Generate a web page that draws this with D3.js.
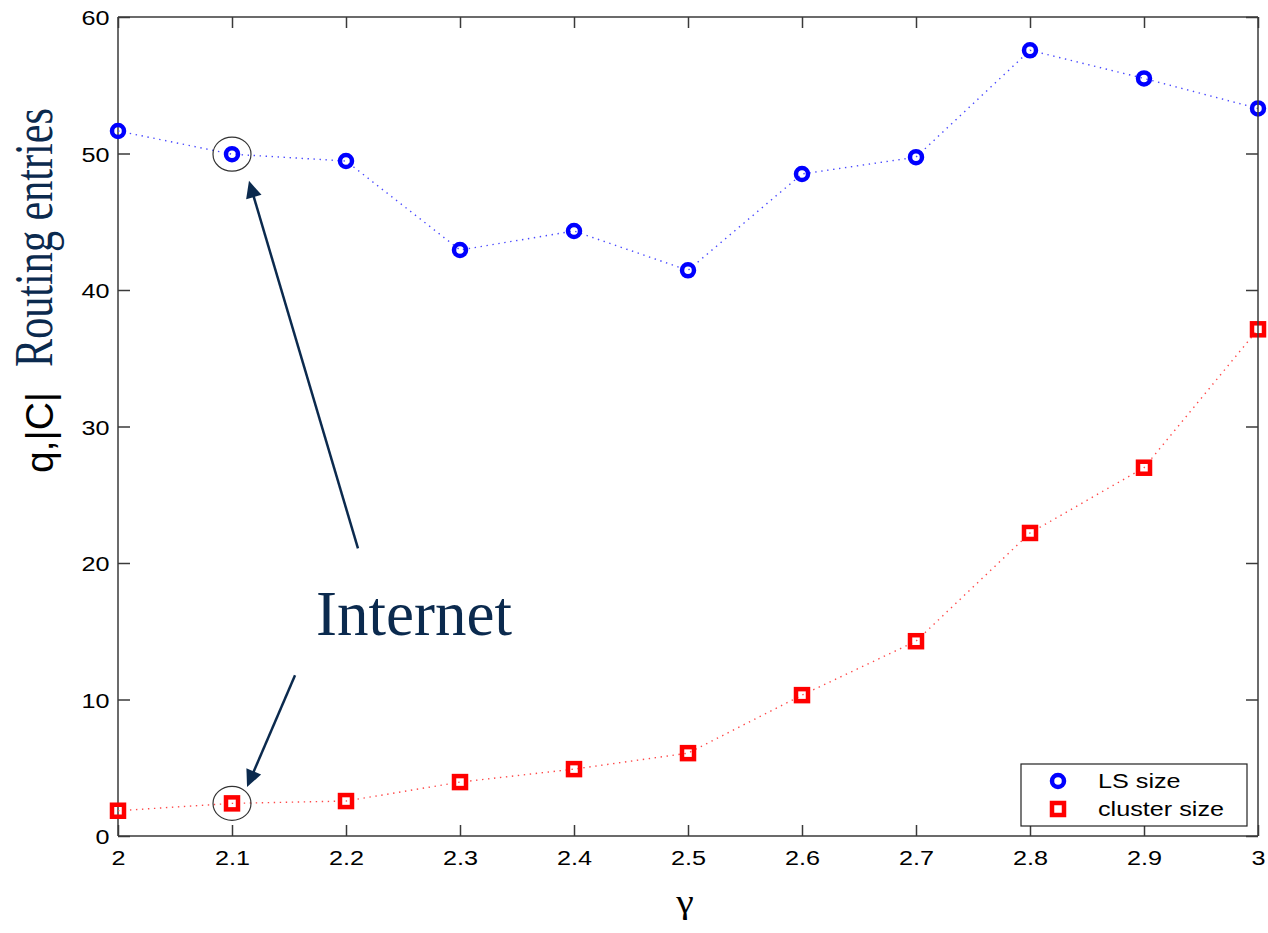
<!DOCTYPE html>
<html><head><meta charset="utf-8">
<script src="https://cdn.jsdelivr.net/npm/d3@7"></script>
<style>body{margin:0;background:#fff}</style></head>
<body><svg id="c" width="1268" height="933"></svg>
<script>
// ---- data ----
const gammaVals   = [2.0, 2.1, 2.2, 2.3, 2.4, 2.5, 2.6, 2.7, 2.8, 2.9, 3.0];
const lsSize      = [51.65, 49.95, 49.45, 42.93, 44.32, 41.44, 48.5, 49.73, 57.56, 55.5, 53.3];
const clusterSize = [1.85, 2.39, 2.56, 3.95, 4.9, 6.07, 10.32, 14.27, 22.2, 26.98, 37.12];
const xTicks      = [2.0, 2.1, 2.2, 2.3, 2.4, 2.5, 2.6, 2.7, 2.8, 2.9, 3.0];
const xTickLabels = ["2", "2.1", "2.2", "2.3", "2.4", "2.5", "2.6", "2.7", "2.8", "2.9", "3"];
const yTicks      = [0, 10, 20, 30, 40, 50, 60];
const seriesNames = ["LS size", "cluster size"];
const xLabel = "γ";
const yLabelA = "q,|C|";
const yLabelB = "Routing entries";
const annotText = "Internet";
const annotTextPos = [2.1737, 14.7];
const arrowUp = [[2.2105, 21.07], [2.1149, 48.0]];
const arrowDown = [[2.1553, 11.78], [2.1132, 3.585]];
const highlightIndex = 1;

// ---- layout ----
const L = 118, T = 17, R = 1258, B = 836;
const svg = d3.select("#c");
const x = d3.scaleLinear().domain([2, 3]).range([L, R]);
const y = d3.scaleLinear().domain([0, 60]).range([B, T]);
const axisCol = "#3a3a3a";
const navy = "#0b2a4e";
const sans = "'Liberation Sans', Arial, sans-serif";
const serif = "'Liberation Serif', 'Times New Roman', serif";

// axes (left/bottom with labels)
const gx = svg.append("g").attr("transform", `translate(0,${B})`)
  .call(d3.axisBottom(x).tickValues(xTicks).tickSize(-11).tickSizeOuter(0).tickPadding(14)
    .tickFormat((d, i) => xTickLabels[i]));
const gy = svg.append("g").attr("transform", `translate(${L},0)`)
  .call(d3.axisLeft(y).tickValues(yTicks).tickSize(-12).tickSizeOuter(0).tickPadding(7));
[gx, gy].forEach(g => {
  g.select(".domain").remove();
  g.selectAll(".tick line").attr("stroke", axisCol).attr("stroke-width", 1.5);
  g.selectAll(".tick text").attr("font-family", sans).attr("font-size", 21).attr("fill", "#000");
});
gx.selectAll(".tick text").attr("transform", "scale(1.2,1)");
gy.selectAll(".tick text").attr("transform", "scale(1.2,1)").attr("dy", "0.36em");

// left & bottom spines
svg.append("line").attr("x1", L).attr("x2", L).attr("y1", T).attr("y2", B).attr("stroke", axisCol).attr("stroke-width", 1.5);
svg.append("line").attr("x1", L).attr("x2", R).attr("y1", B).attr("y2", B).attr("stroke", axisCol).attr("stroke-width", 1.5);

// series lines
const line = d3.line().x((d, i) => x(gammaVals[i])).y(d => y(d));
svg.append("path").datum(lsSize).attr("d", line).attr("fill", "none")
  .attr("stroke", "#4848ff").attr("stroke-width", 1.4).attr("stroke-dasharray", "1.4,4.6");
svg.append("path").datum(clusterSize).attr("d", line).attr("fill", "none")
  .attr("stroke", "#ff4848").attr("stroke-width", 1.4).attr("stroke-dasharray", "1.4,4.6");

// markers
svg.append("g").selectAll("circle").data(lsSize).join("circle")
  .attr("cx", (d, i) => x(gammaVals[i])).attr("cy", d => y(d)).attr("r", 6)
  .attr("fill", "none").attr("stroke", "#0000ff").attr("stroke-width", 4.5);
svg.append("g").selectAll("rect").data(clusterSize).join("rect")
  .attr("x", (d, i) => x(gammaVals[i]) - 6).attr("y", d => y(d) - 6).attr("width", 12).attr("height", 12)
  .attr("fill", "none").attr("stroke", "#ff0000").attr("stroke-width", 4.5);

// top & right spines with inward ticks
const gt = svg.append("g").attr("transform", `translate(0,${T})`)
  .call(d3.axisTop(x).tickValues(xTicks).tickSize(-11).tickSizeOuter(0).tickFormat(""));
const gr = svg.append("g").attr("transform", `translate(${R},0)`)
  .call(d3.axisRight(y).tickValues(yTicks).tickSize(-12).tickSizeOuter(0).tickFormat(""));
[gt, gr].forEach(g => {
  g.select(".domain").remove();
  g.selectAll(".tick line").attr("stroke", axisCol).attr("stroke-width", 1.5);
  g.selectAll(".tick text").remove();
});
svg.append("line").attr("x1", L).attr("x2", R).attr("y1", T).attr("y2", T).attr("stroke", axisCol).attr("stroke-width", 1.5);
svg.append("line").attr("x1", R).attr("x2", R).attr("y1", T).attr("y2", B).attr("stroke", axisCol).attr("stroke-width", 1.5);

// legend
const lg = svg.append("g");
lg.append("rect").attr("x", 1021).attr("y", 764).attr("width", 226).attr("height", 62)
  .attr("fill", "#fff").attr("stroke", "#222").attr("stroke-width", 1.2);
lg.append("circle").attr("cx", 1058).attr("cy", 781).attr("r", 6).attr("fill", "none")
  .attr("stroke", "#0000ff").attr("stroke-width", 4.5);
lg.append("rect").attr("x", 1052).attr("y", 803).attr("width", 12).attr("height", 12).attr("fill", "none")
  .attr("stroke", "#ff0000").attr("stroke-width", 4.5);
seriesNames.forEach((s, i) => {
  lg.append("text").attr("transform", `translate(1098,${788 + i * 28}) scale(1.2,1)`)
    .attr("font-family", sans).attr("font-size", 21).attr("fill", "#000").text(s);
});

// x label
svg.append("text").attr("transform", "translate(685,913) scale(1.2,1)").attr("text-anchor", "middle")
  .attr("font-family", serif).attr("font-size", 33).attr("fill", "#000").text(xLabel);

// y label
svg.append("text").attr("transform", "translate(53,473) rotate(-90)")
  .attr("font-family", sans).attr("font-size", 39).attr("fill", "#000").text(yLabelA);
svg.append("text").attr("transform", "translate(52,367) rotate(-90)")
  .attr("font-family", serif).attr("font-size", 54).attr("fill", navy)
  .attr("textLength", 259).attr("lengthAdjust", "spacingAndGlyphs").text(yLabelB);

// highlight ellipses
[lsSize, clusterSize].forEach(arr => {
  svg.append("ellipse").attr("cx", x(gammaVals[highlightIndex])).attr("cy", y(arr[highlightIndex]))
    .attr("rx", 19).attr("ry", 17).attr("fill", "none").attr("stroke", "#333").attr("stroke-width", 1.2);
});

// arrows
function arrow(a) {
  const x1 = x(a[0][0]), y1 = y(a[0][1]), x2 = x(a[1][0]), y2 = y(a[1][1]);
  const len = Math.hypot(x2 - x1, y2 - y1), ux = (x2 - x1) / len, uy = (y2 - y1) / len;
  const hl = 17, hw = 8;
  const bx = x2 - ux * hl, by = y2 - uy * hl;
  svg.append("line").attr("x1", x1).attr("y1", y1).attr("x2", bx + ux * 2).attr("y2", by + uy * 2)
    .attr("stroke", navy).attr("stroke-width", 2.5);
  svg.append("polygon").attr("points",
    [[x2, y2], [bx - uy * hw, by + ux * hw], [bx + uy * hw, by - ux * hw]].map(p => p.join(",")).join(" "))
    .attr("fill", navy);
}
arrow(arrowUp);
arrow(arrowDown);

// annotation text
svg.append("text").attr("x", x(annotTextPos[0])).attr("y", y(annotTextPos[1]))
  .attr("font-family", serif).attr("font-size", 63).attr("fill", navy).text(annotText);
</script></body></html>
